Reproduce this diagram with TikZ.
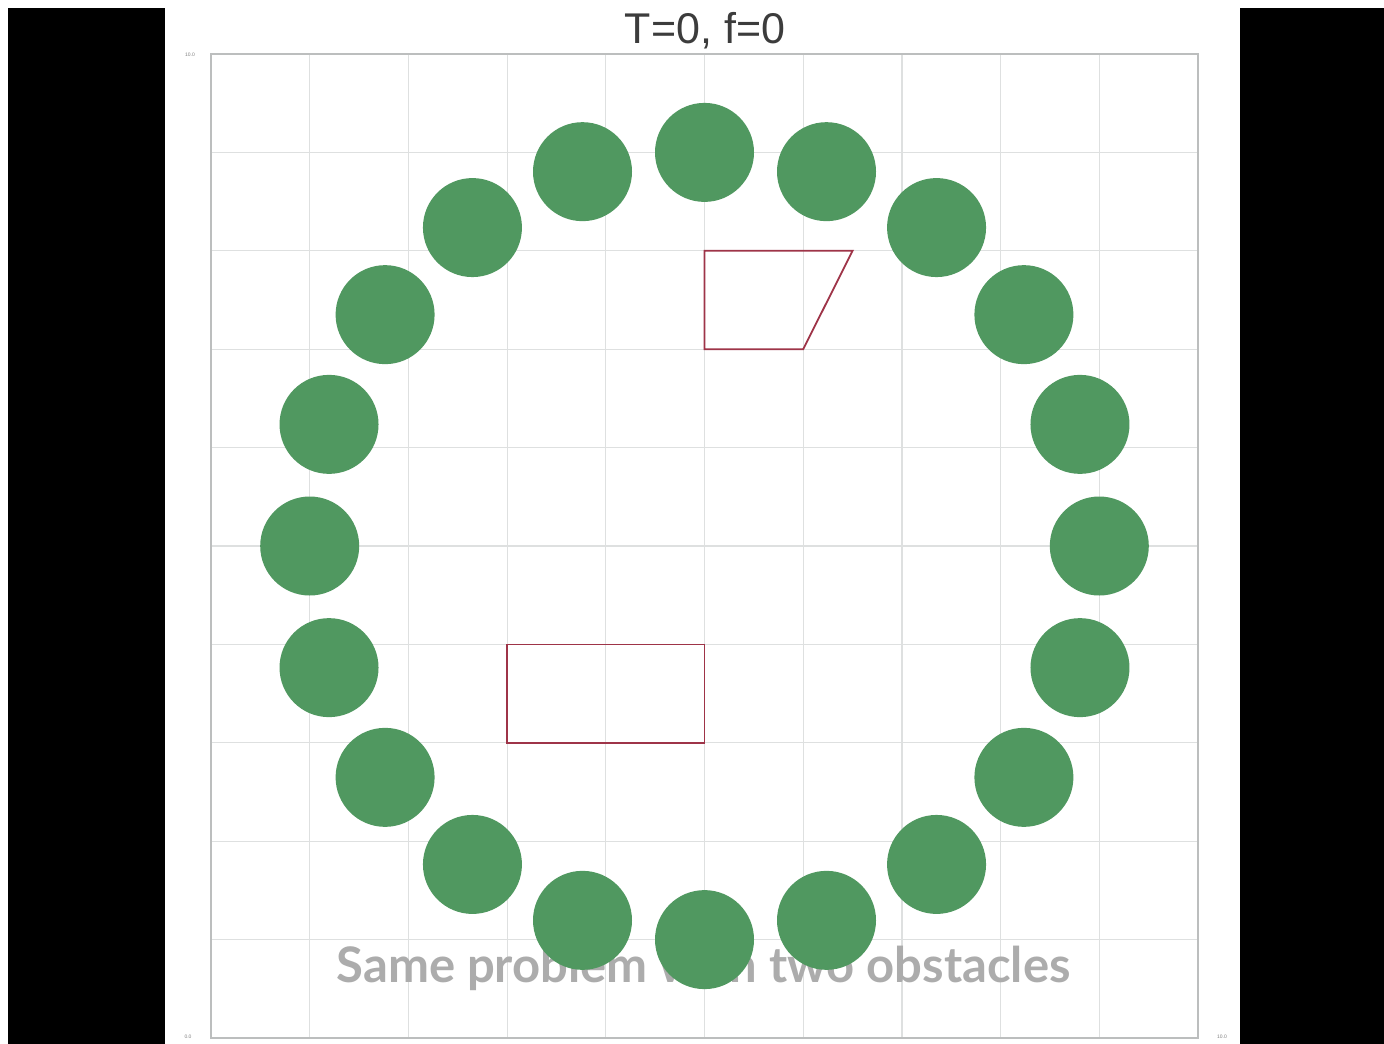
\documentclass[tikz,border=0pt]{standalone}
\usepackage{fontspec}
\setmainfont{Liberation Sans}
\newfontfamily\captfont{Lato}
\definecolor{discgreen}{RGB}{80,152,96}
\definecolor{obsred}{RGB}{158,52,72}
\definecolor{gridgray}{RGB}{222,224,224}
\definecolor{framegray}{RGB}{188,190,190}
\definecolor{captgray}{RGB}{172,172,172}
\definecolor{titlegray}{RGB}{60,60,60}
\tikzset{
  disc/.style={circle, fill=discgreen, draw=none, minimum size=99pt, inner sep=0pt},
  obstacle/.style={draw=obsred, line width=1.8pt, line join=miter},
  gridline/.style={draw=gridgray, line width=1.2pt},
  frameline/.style={draw=framegray, line width=2pt},
  ticklabel/.style={text=gray, font=\fontsize{5}{6}\selectfont, inner sep=0pt}
}
\begin{document}
\begin{tikzpicture}[x=1pt,y=-1pt]
\useasboundingbox (0,0) rectangle (1384,1044);
\fill[white] (0,0) rectangle (1384,1044);
\fill[black] (8,8) rectangle (165,1044);
\fill[black] (1240,8) rectangle (1384,1044);
% title
\node[text=titlegray, font=\fontsize{43}{48}\selectfont, inner sep=0pt] (title) at (705,31) {T=0, f=0};
% tick labels
\node[ticklabel] (tl) at (190,55) {10.0};
\node[ticklabel] (bl) at (188,1037) {0.0};
\node[ticklabel] (br) at (1222,1037) {10.0};
\begin{scope}[shift={(211,1038)}, x=98.7pt, y=98.4pt]
  \foreach \i in {1,...,9} {
    \draw[gridline] (\i,0) -- (\i,10);
    \draw[gridline] (0,\i) -- (10,\i);
  }
  \draw[frameline] (0,0) rectangle (10,10);
  % caption (behind discs)
  \node[text=captgray, font=\captfont\bfseries\fontsize{49}{54}\selectfont, inner sep=0pt] (caption) at (4.99,0.71) {Same problem with two obstacles};
  % obstacles
  \draw[obstacle] (5,8) -- (6.5,8) -- (6,7) -- (5,7) -- cycle;
  \draw[obstacle] (3,3) rectangle (5,4);
  % discs
  \foreach \k in {0,...,19} {
    \node[disc] (d\k) at ({5+4*sin(18*\k)},{5+4*cos(18*\k)}) {};
  }
\end{scope}
\end{tikzpicture}
\end{document}
